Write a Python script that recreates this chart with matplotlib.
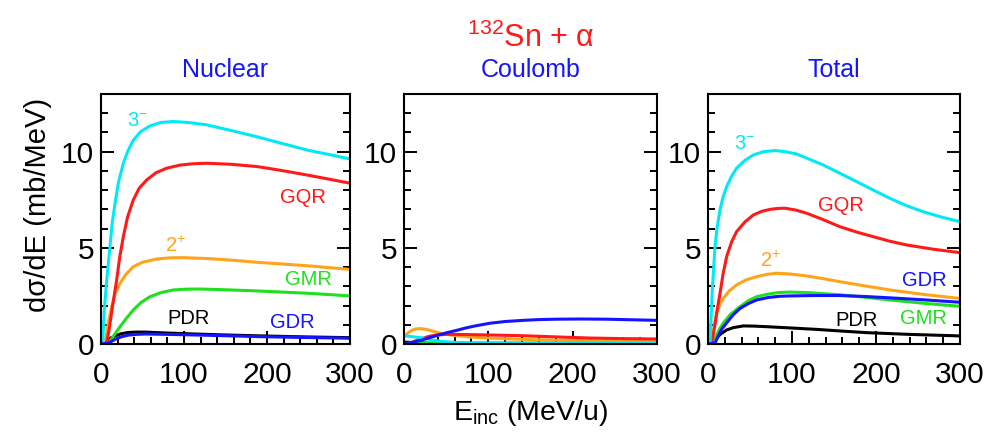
import matplotlib
matplotlib.use("Agg")
import matplotlib.pyplot as plt
import numpy as np
from matplotlib.ticker import MultipleLocator

plt.rcParams["font.family"] = ["Liberation Sans", "DejaVu Sans"]
plt.rcParams["mathtext.fontset"] = "custom"
plt.rcParams["mathtext.rm"] = "Liberation Sans"
plt.rcParams["mathtext.it"] = "Liberation Sans:italic"

# (E_inc [MeV/u], dsigma/dE [mb/MeV]) per excitation mode
# --- nuclear
nuc_3m = [(0, 0), (2, 0.05), (4, 1.8), (7, 3.4), (10.8, 5.06), (13.5, 6.3), (16.9, 7.3),
          (21, 8.4), (26.9, 9.4), (32, 10.0), (38.9, 10.6), (48, 11.05), (59, 11.34),
          (72, 11.52), (87, 11.57), (105, 11.52), (127, 11.4), (155, 11.12), (187.6, 10.78),
          (218, 10.43), (248, 10.09), (275, 9.85), (300, 9.62)]
nuc_gqr = [(0, 0), (6.8, 0.05), (10, 0.8), (14, 2.0), (18.9, 3.33), (22.5, 4.5), (26.9, 5.58),
           (32, 6.6), (38.9, 7.49), (46, 8.1), (55, 8.53), (66, 8.9), (79, 9.14), (95, 9.3),
           (110, 9.37), (127, 9.4), (155, 9.35), (187.6, 9.23), (218, 9.02), (248, 8.79),
           (275, 8.57), (300, 8.36)]
nuc_2p = [(0, 0), (4.8, 0.05), (7, 0.6), (9.5, 1.25), (12.9, 1.94), (17, 2.6), (22.9, 3.16),
          (30, 3.62), (38.9, 4.02), (50, 4.25), (67, 4.42), (83, 4.48), (99, 4.49), (130, 4.44),
          (160, 4.35), (187.6, 4.25), (218, 4.16), (248, 4.07), (275, 3.97), (300, 3.88)]
nuc_gmr = [(0, 0), (8.8, 0.05), (14, 0.35), (18, 0.6), (22.9, 0.9), (30, 1.3), (38.9, 1.77),
           (48, 2.15), (59, 2.46), (72, 2.67), (87, 2.81), (103, 2.85), (119, 2.86),
           (150, 2.82), (187.6, 2.76), (218, 2.7), (248, 2.64), (275, 2.57), (300, 2.5)]
nuc_pdr = [(0, 0), (4.8, 0.04), (8, 0.18), (12, 0.32), (16.9, 0.42), (24, 0.53), (33, 0.6),
           (43, 0.62), (53, 0.62), (80, 0.57), (113, 0.52), (150, 0.47), (193.6, 0.42),
           (245, 0.37), (300, 0.33)]
nuc_gdr = [(0, 0), (8.8, 0.04), (12, 0.12), (16, 0.22), (20, 0.3), (25, 0.38), (33, 0.46),
           (42, 0.5), (53, 0.52), (80, 0.5), (113, 0.47), (150, 0.43), (193.6, 0.38),
           (245, 0.34), (300, 0.3)]
# --- coulomb
cou_3m = [(0, 0.43), (10, 0.38), (22.9, 0.31), (32, 0.22), (42.7, 0.14), (60, 0.08),
          (82, 0.05), (300, 0.05)]
cou_gqr = [(0, 0), (7, 0.05), (14, 0.17), (22.9, 0.31), (30, 0.4), (38.7, 0.47), (50, 0.5),
           (62.5, 0.5), (100, 0.47), (141.5, 0.43), (180, 0.37), (220.6, 0.31), (260, 0.28),
           (300, 0.26)]
cou_2p = [(0, 0.36), (4, 0.55), (9.1, 0.71), (14, 0.78), (19, 0.8), (25, 0.77), (30.8, 0.71),
          (38, 0.62), (46.6, 0.53), (60, 0.44), (82, 0.35), (110, 0.29), (141.5, 0.24),
          (180, 0.2), (220.6, 0.17), (260, 0.14), (300, 0.12)]
cou_gmr = [(0, 0.03), (300, 0.02)]
cou_pdr = [(0, 0.1), (30, 0.04), (300, 0.03)]
cou_gdr = [(0, 0.0), (10, 0.08), (22.9, 0.23), (32, 0.35), (42.7, 0.49), (52, 0.6),
           (62.5, 0.71), (72, 0.82), (82, 0.92), (92, 1.0), (102, 1.08), (120, 1.17),
           (141.5, 1.23), (160, 1.27), (181, 1.29), (210, 1.3), (240.4, 1.29), (270, 1.26),
           (300, 1.23)]
# --- total
tot_3m = [(0, 0), (2.4, 0.05), (5, 2.7), (8.3, 5.06), (11, 6.1), (14.3, 6.97), (18, 7.65),
          (22.2, 8.18), (28, 8.72), (34, 9.14), (44, 9.55), (54, 9.83), (66, 10.0),
          (79.8, 10.06), (92, 10.0), (105.6, 9.88), (120, 9.62), (137, 9.31), (157, 8.88),
          (177, 8.44), (197, 8.0), (216.7, 7.57), (236, 7.2), (256, 6.88), (278, 6.6),
          (300, 6.36)]
tot_gqr = [(0, 0), (4.4, 0.05), (8, 0.9), (11, 1.8), (14.3, 2.63), (18, 3.65), (22.2, 4.54),
           (28, 5.3), (34, 5.84), (44, 6.35), (54, 6.71), (64, 6.9), (73.8, 7.0), (83, 7.05),
           (91.7, 7.06), (104, 6.97), (117.5, 6.8), (137, 6.47), (157, 6.1), (177, 5.82),
           (196.8, 5.58), (216, 5.35), (236.5, 5.15), (268, 4.93), (300, 4.75)]
tot_2p = [(0, 0), (4.4, 0.05), (7, 0.85), (10.3, 1.59), (14, 2.05), (18.3, 2.37), (25, 2.75),
          (34, 3.07), (45, 3.33), (57.9, 3.5), (70, 3.62), (81.7, 3.68), (98, 3.64),
          (117.5, 3.54), (137, 3.4), (157, 3.24), (187, 3.02), (216.7, 2.81), (256, 2.58),
          (300, 2.37)]
tot_gmr = [(0, 0), (6.3, 0.05), (10, 0.45), (14, 0.8), (18.3, 1.1), (27, 1.55), (38.1, 1.94),
           (48, 2.25), (57.9, 2.46), (72, 2.6), (85, 2.68), (97.6, 2.7), (120, 2.67),
           (157, 2.56), (187, 2.43), (216.7, 2.29), (256, 2.12), (300, 1.96)]
tot_gdr = [(0, 0), (8.3, 0.05), (12, 0.4), (16, 0.75), (22.2, 1.1), (30, 1.52), (38.1, 1.85),
           (48, 2.1), (57.9, 2.29), (72, 2.42), (85, 2.48), (97.6, 2.5), (125, 2.52),
           (157, 2.52), (187, 2.47), (216.7, 2.4), (256, 2.3), (300, 2.17)]
tot_pdr = [(0, 0), (6.3, 0.05), (10, 0.3), (15, 0.52), (22.2, 0.73), (30, 0.85), (42, 0.94),
           (55, 0.93), (70, 0.9), (100, 0.83), (129.4, 0.76), (160, 0.67), (189, 0.59),
           (240, 0.5), (300, 0.42)]

panel_titles = ["Nuclear", "Coulomb", "Total"]
modes = ["PDR", "GMR", "2+", "GQR", "3-", "GDR"]
mode_colors = {"3-": "#00eaf5", "GQR": "#ff1a1a", "2+": "#ffa31a",
               "GMR": "#1ee01e", "PDR": "black", "GDR": "#1414ff"}
mode_text = {"3-": r"3$^{\mathrm{-}}$", "2+": r"2$^{+}$",
             "GQR": "GQR", "GMR": "GMR", "PDR": "PDR", "GDR": "GDR"}

curves = [
    {"PDR": nuc_pdr, "GMR": nuc_gmr, "2+": nuc_2p, "GQR": nuc_gqr, "3-": nuc_3m, "GDR": nuc_gdr},
    {"PDR": cou_pdr, "GMR": cou_gmr, "2+": cou_2p, "GQR": cou_gqr, "3-": cou_3m, "GDR": cou_gdr},
    {"PDR": tot_pdr, "GMR": tot_gmr, "2+": tot_2p, "GQR": tot_gqr, "3-": tot_3m, "GDR": tot_gdr},
]
# label anchors (E, sigma) for the nuclear and total panels
labels = [
    {"3-": (44, 11.6), "GQR": (243, 7.64), "2+": (90, 5.1), "GMR": (250, 3.33),
     "PDR": (105, 1.34), "GDR": (230, 1.11)},
    {},
    {"3-": (43, 10.45), "GQR": (158, 7.2), "2+": (74, 4.3), "GDR": (257, 3.28),
     "GMR": (256, 1.34), "PDR": (177, 1.22)},
]

fig = plt.figure(figsize=(9.89, 4.34), dpi=100)
lefts = [101, 404, 708]
widths = [249, 253, 252]
for k in range(3):
    ax = fig.add_axes([lefts[k] / 989, 90 / 434, widths[k] / 989, 250 / 434])
    for m in modes:
        pts = np.array(curves[k][m])
        ax.plot(pts[:, 0], pts[:, 1], color=mode_colors[m], lw=2.2,
                solid_joinstyle="round")
    for m, (xx, yy) in labels[k].items():
        ax.text(xx, yy, mode_text[m], color=mode_colors[m], fontsize=14.5,
                ha="center", va="center")
    ax.set_xlim(0, 300)
    ax.set_ylim(0, 13)
    ax.xaxis.set_major_locator(MultipleLocator(100))
    ax.xaxis.set_minor_locator(MultipleLocator(20))
    ax.yaxis.set_major_locator(MultipleLocator(5))
    ax.yaxis.set_minor_locator(MultipleLocator(1))
    ax.tick_params(which="both", direction="in", top=False, right=True, width=1.4)
    ax.tick_params(which="major", length=9.5)
    ax.tick_params(which="minor", length=5)
    ax.tick_params(axis="x", labelsize=21.5, pad=12)
    ax.tick_params(axis="y", labelsize=21.5, pad=5)
    for sp in ax.spines.values():
        sp.set_linewidth(1.5)
    fig.text((lefts[k] + widths[k] / 2) / 989, 1 - 77 / 434, panel_titles[k],
             color="#1414ff", fontsize=18, ha="center", va="baseline")

fig.text(531 / 989, 1 - 47 / 434, r"$^{132}$Sn + α", color="#ff1a1a", fontsize=22,
         ha="center", va="baseline")
fig.text(531 / 989, 14 / 434, r"E$_{\mathrm{inc}}$ (MeV/u)", fontsize=20.5,
         ha="center", va="baseline")
fig.text(38 / 989, 1 - 205 / 434, "dσ/dE (mb/MeV)", fontsize=21, rotation=90,
         ha="center", va="center")

fig.savefig("out.png", dpi=100)
